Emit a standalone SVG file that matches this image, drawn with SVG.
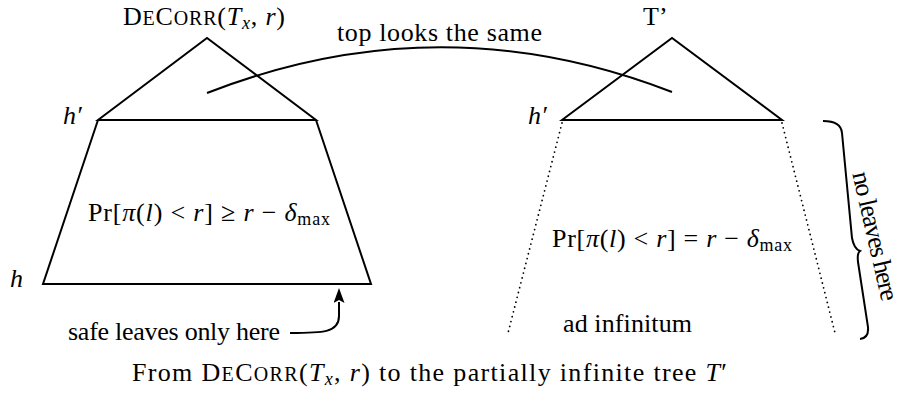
<svg xmlns="http://www.w3.org/2000/svg" width="901" height="394" viewBox="0 0 901 394" font-family="'Liberation Serif', 'DejaVu Serif', serif">
<defs>
<style>
text{font-family:'Liberation Serif','DejaVu Serif',serif;font-size:26px;fill:#000}
.it{font-style:italic}
.ln{fill:none;stroke:#000;stroke-width:2;stroke-linejoin:miter}
.dot{fill:none;stroke:#000;stroke-width:1.8;stroke-linecap:round;stroke-dasharray:0 5}
</style>
<marker id="ah" markerUnits="userSpaceOnUse" markerWidth="15" markerHeight="11" viewBox="0 0 15 11" refX="1" refY="5.5" orient="auto">
<path d="M0,0 L15,5.5 L0,11 L3,5.5 Z" fill="#000"/>
</marker>
</defs>
<rect width="901" height="394" fill="#fff"/>

<g id="left-tree">
<path class="ln" d="M98,120 L207,38 L316,120 Z"/>
<path class="ln" d="M98,120 L43,284 L371,284 L316,120"/>
<text x="123" y="25" textLength="162">D<tspan font-size="20">E</tspan>C<tspan font-size="20">ORR</tspan>(<tspan class="it">T</tspan><tspan class="it" font-size="18" dy="4">x</tspan><tspan dy="-4">, </tspan><tspan class="it">r</tspan>)</text>
<text class="it" x="63" y="124">h′</text>
<text class="it" x="10" y="287">h</text>
<text x="88" y="221" textLength="242">Pr[<tspan class="it">π</tspan>(<tspan class="it">l</tspan>) &lt; <tspan class="it">r</tspan>] ≥ <tspan class="it">r</tspan> − <tspan class="it">δ</tspan><tspan font-size="18" dy="4">max</tspan></text>
<text x="68" y="340" textLength="212">safe leaves only here</text>
</g>

<g id="right-tree">
<path class="ln" d="M562,120 L672,38 L782,120 Z"/>
<path class="dot" d="M562,123 L508,333"/>
<path class="dot" d="M782,123 L835,333"/>
<text x="643" y="25">T’</text>
<text class="it" x="528" y="124">h′</text>
<text x="552" y="247" textLength="240">Pr[<tspan class="it">π</tspan>(<tspan class="it">l</tspan>) &lt; <tspan class="it">r</tspan>] = <tspan class="it">r</tspan> − <tspan class="it">δ</tspan><tspan font-size="18" dy="4">max</tspan></text>
<text x="563" y="332" textLength="129">ad infinitum</text>
</g>

<g id="brace">
<path class="ln" d="M823,121 Q841,121 842,133 L852,238 Q854,249 860,251 Q857,253 858,262 L868,327 Q869,338 860,339"/>
<text x="867" y="238" text-anchor="middle" textLength="132" transform="rotate(77 867 238)">no leaves here</text>
</g>

<g id="connectors">
<path class="ln" d="M207,93 Q440,2 672,92"/>
<text x="337" y="41" textLength="205">top looks the same</text>
<path class="ln" d="M290,333 C322,333 339,333 339,316 L339,302" marker-end="url(#ah)"/>
</g>

<g id="caption">
<text x="132" y="381" textLength="595">From D<tspan font-size="20">E</tspan>C<tspan font-size="20">ORR</tspan>(<tspan class="it">T</tspan><tspan class="it" font-size="18" dy="4">x</tspan><tspan dy="-4">, </tspan><tspan class="it">r</tspan>) to the partially infinite tree <tspan class="it">T</tspan>′</text>
</g>
</svg>
